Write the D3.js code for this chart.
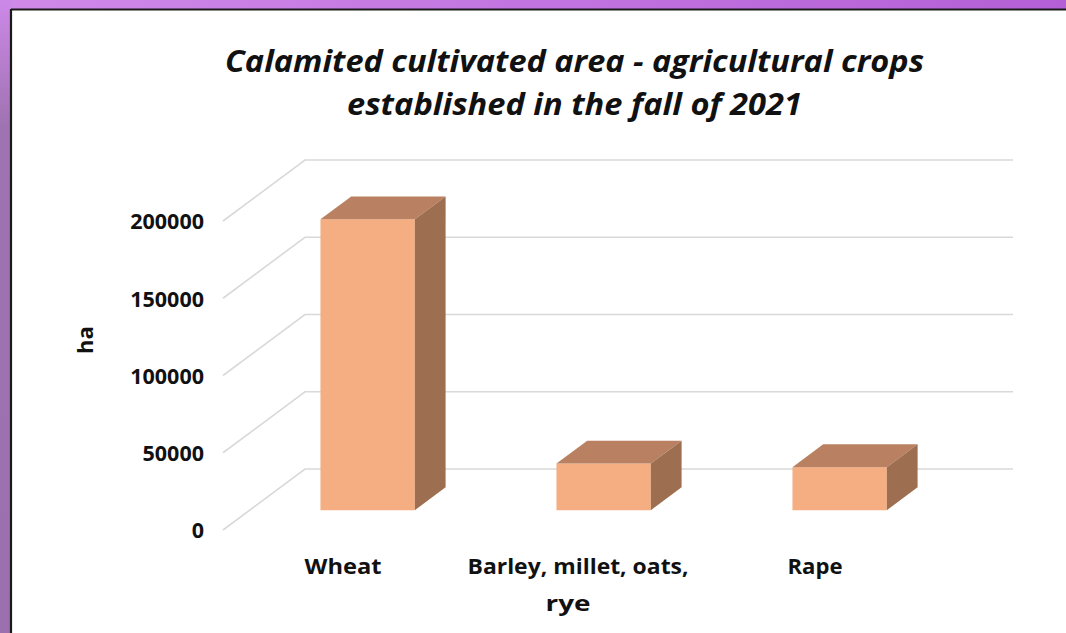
<!DOCTYPE html>
<html>
<head>
<meta charset="utf-8">
<script src="https://cdn.jsdelivr.net/npm/d3@7"></script>
<style>
  html, body { margin: 0; padding: 0; background: #fff; }
  svg { display: block; }
</style>
</head>
<body>
<div id="chart"></div>
<script>
// ---- data ----
const categories = ["Wheat", "Barley, millet, oats, rye", "Rape"];
const categoryLines = [["Wheat"], ["Barley, millet, oats,", "rye"], ["Rape"]];
const values = [188300, 30200, 27800];
const yTicks = [0, 50000, 100000, 150000, 200000];
const titleLines = ["Calamited cultivated area - agricultural crops", "established in the fall of 2021"];
const yAxisTitle = "ha";

// ---- layout ----
const W = 1066, H = 633;
const origin = { x: 223, y: 530 };      // front-left corner of floor
const depth = { dx: 82, dy: -61 };      // oblique depth vector
const plotW = 708;
const barD0 = 0.325, barD1 = 0.70;      // bar depth range (fraction)

const svg = d3.select("#chart").append("svg").attr("width", W).attr("height", H);

// background frame
const defs = svg.append("defs");
const gTop = defs.append("linearGradient").attr("id", "gTop").attr("x1", 0).attr("x2", 1).attr("y1", 0).attr("y2", 0);
gTop.append("stop").attr("offset", 0).attr("stop-color", "#d08ae9");
gTop.append("stop").attr("offset", 1).attr("stop-color", "#b45fd6");
const gLeft = defs.append("linearGradient").attr("id", "gLeft").attr("x1", 0).attr("x2", 0).attr("y1", 0).attr("y2", 1);
gLeft.append("stop").attr("offset", 0).attr("stop-color", "#cd88e8");
gLeft.append("stop").attr("offset", 0.2).attr("stop-color", "#9f73b1");
gLeft.append("stop").attr("offset", 1).attr("stop-color", "#9c70ae");

svg.append("rect").attr("x", 0).attr("y", 0).attr("width", W).attr("height", 10).attr("fill", "url(#gTop)");
svg.append("rect").attr("x", 0).attr("y", 0).attr("width", 11).attr("height", H).attr("fill", "url(#gLeft)");
svg.append("rect").attr("x", 10).attr("y", 9).attr("width", W).attr("height", H).attr("fill", "#fff");
svg.append("line").attr("x1", 11).attr("x2", W).attr("y1", 9.5).attr("y2", 9.5).attr("stroke", "#1a1a1a").attr("stroke-width", 2);
svg.append("line").attr("x1", 11).attr("x2", 11).attr("y1", 9).attr("y2", H).attr("stroke", "#1a1a1a").attr("stroke-width", 2.2);

// scales
const x = d3.scaleBand().domain(categories).range([0, plotW]).paddingInner(0.6).paddingOuter(0.3);
const yFront = d3.scaleLinear().domain([0, 200000]).range([origin.y, origin.y - 309]);
const hScale = d3.scaleLinear().domain([0, 200000]).range([0, 309]);

function proj(px, v, d) {
  return [origin.x + px + depth.dx * d, origin.y - hScale(v) + depth.dy * d];
}

// gridlines: side wall diagonals + back wall horizontals
const grid = svg.append("g").attr("stroke", "#d9d9d9").attr("stroke-width", 1.6).attr("fill", "none");
yTicks.forEach(t => {
  const a = proj(0, t, 0), b = proj(0, t, 1), c = proj(plotW, t, 1);
  grid.append("polyline").attr("points", [a, b, c].map(p => p.join(",")).join(" "));
});

// bars
const bars = svg.append("g");
categories.forEach((c, i) => {
  const v = values[i];
  const x0 = x(c), x1 = x(c) + x.bandwidth();
  const fBL = proj(x0, 0, barD0), fBR = proj(x1, 0, barD0);
  const fTL = proj(x0, v, barD0), fTR = proj(x1, v, barD0);
  const bTL = proj(x0, v, barD1), bTR = proj(x1, v, barD1), bBR = proj(x1, 0, barD1);
  const poly = pts => pts.map(p => p.join(",")).join(" ");
  bars.append("polygon").attr("points", poly([fBL, fBR, fTR, fTL])).attr("fill", "#f4ae82");
  bars.append("polygon").attr("points", poly([fTL, fTR, bTR, bTL])).attr("fill", "#b98161");
  bars.append("polygon").attr("points", poly([fBR, bBR, bTR, fTR])).attr("fill", "#9d6f50");
});

// y axis
const yAxis = d3.axisLeft(yFront).tickValues(yTicks).tickSize(0).tickPadding(19).tickFormat(d3.format("d"));
const ya = svg.append("g").attr("transform", `translate(${origin.x},0)`).call(yAxis);
ya.select(".domain").remove();
ya.selectAll("text")
  .attr("font-family", "'Open Sans', sans-serif").attr("font-weight", 700)
  .attr("font-size", 21.5).attr("fill", "#111").attr("dy", "0.36em");

// category labels
const catG = svg.append("g").attr("font-family", "'Open Sans', sans-serif").attr("font-weight", 700)
  .attr("font-size", 21.5).attr("fill", "#111");
const labelWidths = [[77], [221, 45], [55]];
const labelShift = [[2], [1, -9], [2]];
categories.forEach((c, i) => {
  const cx = origin.x + x(c) + x.bandwidth() / 2;
  categoryLines[i].forEach((ln, j) => {
    catG.append("text")
      .attr("x", cx + labelShift[i][j]).attr("y", 574 + j * 37)
      .attr("text-anchor", "middle")
      .attr("textLength", labelWidths[i][j]).attr("lengthAdjust", "spacingAndGlyphs")
      .text(ln);
  });
});

// y axis title
svg.append("text")
  .attr("transform", "translate(93,340) rotate(-90)")
  .attr("text-anchor", "middle")
  .attr("font-family", "'Open Sans', sans-serif").attr("font-weight", 700)
  .attr("font-size", 22).attr("fill", "#111")
  .text(yAxisTitle);

// title
const titleWidths = [699, 455];
const tg = svg.append("g").attr("font-family", "'Open Sans', sans-serif").attr("font-weight", 700)
  .attr("font-style", "italic").attr("font-size", 31).attr("fill", "#111");
titleLines.forEach((t, i) => {
  tg.append("text").attr("x", 574.5).attr("y", 72 + i * 43)
    .attr("text-anchor", "middle")
    .attr("textLength", titleWidths[i]).attr("lengthAdjust", "spacingAndGlyphs")
    .text(t);
});
</script>
</body>
</html>
